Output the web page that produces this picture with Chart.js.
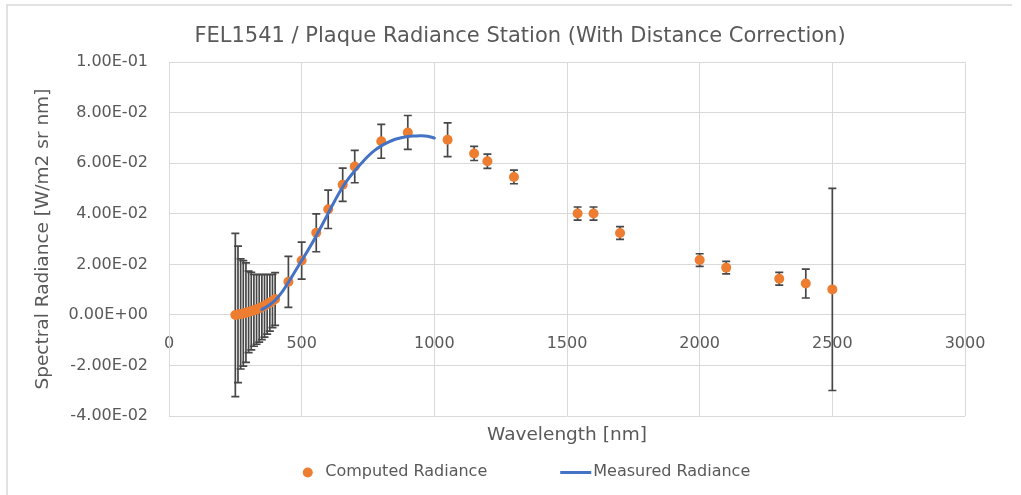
<!DOCTYPE html>
<html>
<head>
<meta charset="utf-8">
<script src="https://cdn.jsdelivr.net/npm/chart.js@4.4.1/dist/chart.umd.min.js"></script>
<style>
  html, body { margin: 0; padding: 0; background: #ffffff; }
  #wrap { width: 1021px; height: 495px; position: relative; }
</style>
</head>
<body>
<div id="wrap"><canvas id="c" width="1021" height="495"></canvas></div>
<script>
// ---------------- data ----------------
const wavelengths = [250, 260, 270, 280, 290, 300, 310, 320, 330, 340, 350, 360, 370, 380, 390, 400,
  450, 500, 555, 600, 654.6, 700, 800, 900, 1050, 1150, 1200, 1300, 1540, 1600, 1700, 2000, 2100, 2300, 2400, 2500];
const computedRadiance = [0.0000, 0.0002, 0.0004, 0.0006, 0.0009, 0.0012, 0.0015, 0.0018, 0.0022, 0.0026, 0.0031, 0.0036, 0.0042, 0.0048, 0.0055, 0.0063,
  0.0131, 0.0215, 0.0325, 0.0418, 0.0515, 0.0587, 0.0687, 0.0722, 0.0693, 0.0639, 0.0608, 0.0546, 0.0401, 0.0401, 0.0324, 0.0217, 0.0187, 0.0143, 0.0124, 0.0101];
const computedError = [0.0323, 0.0270, 0.0218, 0.0209, 0.0197, 0.0161, 0.0153, 0.0142, 0.0138, 0.0134, 0.0129, 0.0124, 0.0118, 0.0112, 0.0105, 0.0104,
  0.0101, 0.0073, 0.0075, 0.0076, 0.0066, 0.0064, 0.0067, 0.0067, 0.0067, 0.0028, 0.0028, 0.0027, 0.0026, 0.0026, 0.0025, 0.0025, 0.0025, 0.0025, 0.0057, 0.0400];
const measuredWavelengths = [350, 375, 400, 425, 450, 475, 500, 525, 550, 575, 600, 625, 650, 675, 700, 725, 750, 775, 800, 825, 850, 875, 900, 925, 950, 975, 1000];
const measuredRadiance = [0.0021, 0.0037, 0.0058, 0.0089, 0.0129, 0.0172, 0.0215, 0.0258, 0.0303, 0.0352, 0.0402, 0.0452, 0.0498, 0.0537, 0.0570, 0.0600, 0.0628, 0.0651, 0.0669, 0.0683, 0.0694, 0.0701, 0.0706, 0.0708, 0.0709, 0.0707, 0.0700];
const xTickValues = [0, 500, 1000, 1500, 2000, 2500, 3000];
const yTickValues = [-0.04, -0.02, 0, 0.02, 0.04, 0.06, 0.08, 0.10];
const seriesNames = ['Computed Radiance', 'Measured Radiance'];
const chartTitle = 'FEL1541 / Plaque Radiance Station (With Distance Correction)';
const xTitle = 'Wavelength [nm]';
const yTitle = 'Spectral Radiance [W/m2 sr nm]';

// ---------------- styles ----------------
const ORANGE = '#ED7D31';
const BLUE = '#4472C4';
const GRID = '#d9d9d9';
const TEXT = '#595959';
const FONT = 'DejaVu Sans';

function fmtE(v) {
  if (Math.abs(v) < 1e-12) v = 0;
  const s = Number(v).toExponential(2);
  const parts = s.split('e');
  const sign = parts[1][0] === '-' ? '-' : '+';
  let d = parts[1].replace(/[+-]/, '');
  if (d.length < 2) d = '0' + d;
  return parts[0] + 'E' + sign + d;
}

const computedPoints = wavelengths.map((w, i) => ({ x: w, y: computedRadiance[i] }));
const measuredPoints = measuredWavelengths.map((w, i) => ({ x: w, y: measuredRadiance[i] }));

const bgPlugin = {
  id: 'bg',
  beforeDraw(chart) {
    const ctx = chart.ctx;
    ctx.save();
    ctx.fillStyle = '#ffffff';
    ctx.fillRect(0, 0, chart.width, chart.height);
    ctx.strokeStyle = GRID;
    ctx.lineWidth = 1.5;
    ctx.beginPath();
    ctx.moveTo(7, chart.height);
    ctx.lineTo(7, 5);
    ctx.lineTo(1012, 5);
    ctx.stroke();
    ctx.restore();
  }
};

const errorBarPlugin = {
  id: 'errorBars',
  beforeDatasetsDraw(chart) {
    const ctx = chart.ctx;
    const xs = chart.scales.x, ys = chart.scales.y;
    const a = chart.chartArea;
    ctx.save();
    ctx.beginPath();
    ctx.rect(a.left, a.top, a.right - a.left, a.bottom - a.top);
    ctx.clip();
    ctx.strokeStyle = '#474747';
    ctx.lineWidth = 1.7;
    const cap = 4;
    wavelengths.forEach((w, i) => {
      const px = xs.getPixelForValue(w);
      const yt = ys.getPixelForValue(computedRadiance[i] + computedError[i]);
      const yb = ys.getPixelForValue(computedRadiance[i] - computedError[i]);
      ctx.beginPath();
      ctx.moveTo(px, yt); ctx.lineTo(px, yb);
      ctx.moveTo(px - cap, yt); ctx.lineTo(px + cap, yt);
      ctx.moveTo(px - cap, yb); ctx.lineTo(px + cap, yb);
      ctx.stroke();
    });
    ctx.restore();
  }
};

const legendPlugin = {
  id: 'customLegend',
  afterDraw(chart) {
    const ctx = chart.ctx;
    ctx.save();
    ctx.font = '16px "' + FONT + '"';
    ctx.textBaseline = 'middle';
    ctx.fillStyle = TEXT;
    const w1 = ctx.measureText(seriesNames[0]).width;
    const w2 = ctx.measureText(seriesNames[1]).width;
    const total = 22.5 + w1 + 73 + 31 + 2 + w2;
    const center = chart.width / 2 + 16;
    const y = 471.5;
    let x = center - total / 2;
    ctx.beginPath();
    ctx.fillStyle = ORANGE;
    ctx.arc(x + 5, y + 1, 5, 0, Math.PI * 2);
    ctx.fill();
    ctx.fillStyle = TEXT;
    ctx.fillText(seriesNames[0], x + 22.5, y);
    x = x + 22.5 + w1 + 73;
    ctx.strokeStyle = BLUE;
    ctx.lineWidth = 3;
    ctx.beginPath();
    ctx.moveTo(x, y + 1); ctx.lineTo(x + 31, y + 1);
    ctx.stroke();
    ctx.fillText(seriesNames[1], x + 33, y);
    ctx.restore();
  }
};

new Chart(document.getElementById('c'), {
  type: 'scatter',
  data: {
    datasets: [
      {
        label: seriesNames[0],
        data: computedPoints,
        backgroundColor: ORANGE,
        borderColor: ORANGE,
        pointRadius: 5,
        pointBorderWidth: 0,
        showLine: false,
        order: 1
      },
      {
        label: seriesNames[1],
        data: measuredPoints,
        type: 'line',
        borderColor: BLUE,
        backgroundColor: BLUE,
        borderWidth: 3,
        pointRadius: 0,
        fill: false,
        tension: 0.4,
        borderCapStyle: 'round',
        order: 0
      }
    ]
  },
  options: {
    responsive: false,
    animation: false,
    devicePixelRatio: 1,
    layout: { padding: { left: 19, right: 0, top: 0, bottom: 43 } },
    plugins: {
      legend: { display: false },
      tooltip: { enabled: false },
      title: {
        display: true,
        text: chartTitle,
        color: TEXT,
        font: { family: FONT, size: 21, weight: 'normal' },
        padding: { top: 24, bottom: 13 }
      }
    },
    scales: {
      x: {
        type: 'linear',
        position: { y: 0 },
        min: 0, max: 3000,
        afterBuildTicks(s) { s.ticks = xTickValues.map(v => ({ value: v })); },
        grid: { color: GRID, lineWidth: 1, drawTicks: false },
        border: { color: GRID, width: 1 },
        ticks: { color: TEXT, font: { family: FONT, size: 16 }, padding: 19, maxRotation: 0, callback: v => String(v) }
      },
      x2: {
        type: 'linear',
        axis: 'x',
        position: 'bottom',
        min: 0, max: 3000,
        grid: { display: false },
        border: { display: false },
        ticks: { display: false },
        title: { display: true, text: xTitle, color: TEXT, font: { family: FONT, size: 18.5 }, padding: { top: 0, bottom: 6 } },
        afterFit(s) { s.height = 36; }
      },
      y: {
        type: 'linear',
        position: 'left',
        min: -0.04, max: 0.1,
        afterBuildTicks(s) { s.ticks = yTickValues.map(v => ({ value: v })); },
        grid: { color: GRID, lineWidth: 1, drawTicks: false },
        border: { color: GRID, width: 1 },
        ticks: { color: TEXT, font: { family: FONT, size: 16 }, padding: 21, callback: v => fmtE(v) },
        title: { display: true, text: yTitle, color: TEXT, font: { family: FONT, size: 18.5 }, padding: { top: 13, bottom: 0 } },
        afterFit(s) { s.width = 150; }
      },
      yR: {
        type: 'linear',
        axis: 'y',
        position: 'right',
        min: 0, max: 1,
        grid: { display: false },
        border: { display: false },
        ticks: { display: false },
        afterFit(s) { s.width = 56; }
      }
    }
  },
  plugins: [bgPlugin, errorBarPlugin, legendPlugin]
});
</script>
</body>
</html>
